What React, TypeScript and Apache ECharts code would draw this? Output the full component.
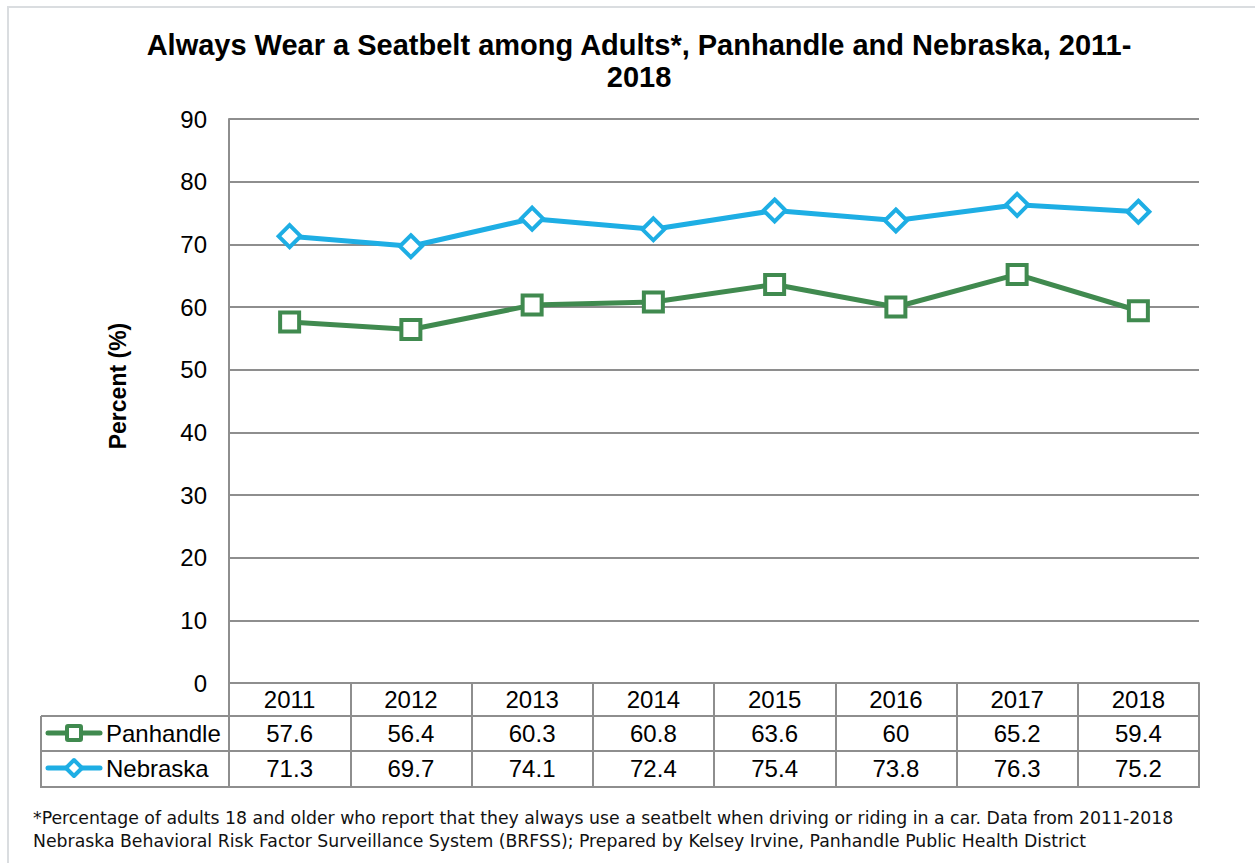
import React, { useEffect, useRef } from "react";
import * as echarts from "echarts";

const years = ["2011", "2012", "2013", "2014", "2015", "2016", "2017", "2018"];
const panhandle = [57.6, 56.4, 60.3, 60.8, 63.6, 60, 65.2, 59.4];
const nebraska = [71.3, 69.7, 74.1, 72.4, 75.4, 73.8, 76.3, 75.2];
const seriesNames = ["Panhandle", "Nebraska"];
const yTicks = { min: 0, max: 90, interval: 10 };

const titleText = "Always Wear a Seatbelt among Adults*, Panhandle and Nebraska, 2011-\n2018";
const yName = "Percent (%)";
const footLine1 =
  "*Percentage of adults 18 and older who report that they always use a seatbelt when driving or riding in a car. Data from 2011-2018";
const footLine2 =
  "Nebraska Behavioral Risk Factor Surveillance System (BRFSS); Prepared by Kelsey Irvine, Panhandle Public Health District";

const FONT = "'Liberation Sans', Arial, sans-serif";
const FOOT_FONT = "'DejaVu Sans', sans-serif";
const GREEN = "#408a4f";
const BLUE = "#1eaee4";
const GRID = "#8e8e8e";

export default function App() {
  const ref = useRef<HTMLDivElement>(null);
  useEffect(() => {
    if (!ref.current) return;
    const chart = echarts.init(ref.current, null, { renderer: "svg" });
    const valueAxis = (data: number[], offset: number) => ({
      type: "category",
      data: data.map((v) => String(v)),
      position: "bottom",
      offset,
      gridIndex: 0,
      axisLine: { show: false },
      axisTick: { show: false },
      axisLabel: { fontSize: 24, color: "#000", fontFamily: FONT, margin: 4, interval: 0 },
    });
    const legendItem = (name: string, color: string, symbol: any, cy: number) => [
      {
        type: "line",
        shape: { x1: 48, y1: cy, x2: 100, y2: cy },
        style: { stroke: color, lineWidth: 5, lineCap: "round" },
      },
      symbol,
      {
        type: "text",
        x: 106,
        y: cy,
        style: { text: name, font: `24px ${FONT}`, fill: "#000", verticalAlign: "middle" },
      },
    ];
    chart.setOption({
      animation: false,
      backgroundColor: "#fff",
      title: {
        text: titleText,
        left: 634,
        textAlign: "center",
        top: 24,
        textStyle: { fontSize: 29, fontWeight: "bold", color: "#000", fontFamily: FONT, lineHeight: 32 },
      },
      grid: { left: 229, right: 56, top: 119, bottom: 180 },
      xAxis: [
        {
          type: "category",
          data: years,
          position: "bottom",
          boundaryGap: true,
          axisLine: { show: true, lineStyle: { color: GRID, width: 2 } },
          axisTick: {
            show: true,
            interval: 0,
            alignWithLabel: false,
            length: 104,
            lineStyle: { color: GRID, width: 2 },
          },
          axisLabel: { fontSize: 24, color: "#000", fontFamily: FONT, margin: 4, interval: 0 },
        },
        valueAxis(panhandle, 34),
        valueAxis(nebraska, 69),
      ],
      yAxis: {
        type: "value",
        min: yTicks.min,
        max: yTicks.max,
        interval: yTicks.interval,
        axisLine: { show: true, lineStyle: { color: GRID, width: 2 } },
        axisTick: { show: false },
        splitLine: { show: true, lineStyle: { color: GRID, width: 2 } },
        axisLabel: { fontSize: 24, color: "#000", fontFamily: FONT, margin: 22 },
      },
      series: [
        {
          name: seriesNames[0],
          type: "line",
          data: panhandle,
          xAxisIndex: 0,
          symbol: "rect",
          symbolSize: 19,
          lineStyle: { color: GREEN, width: 5 },
          itemStyle: { color: "#fff", borderColor: GREEN, borderWidth: 4 },
          z: 3,
        },
        {
          name: seriesNames[1],
          type: "line",
          data: nebraska,
          xAxisIndex: 0,
          symbol: "diamond",
          symbolSize: 22,
          lineStyle: { color: BLUE, width: 5 },
          itemStyle: { color: "#fff", borderColor: BLUE, borderWidth: 4 },
          z: 3,
        },
      ],
      graphic: [
        {
          type: "rect",
          shape: { x: 8, y: 7, width: 1300, height: 900 },
          style: { fill: "none", stroke: "#dadde0", lineWidth: 2 },
          silent: true,
        },
        { type: "line", shape: { x1: 41, y1: 716, x2: 1200, y2: 716 }, style: { stroke: GRID, lineWidth: 2 } },
        { type: "line", shape: { x1: 41, y1: 751, x2: 1200, y2: 751 }, style: { stroke: GRID, lineWidth: 2 } },
        { type: "line", shape: { x1: 40, y1: 787, x2: 1200, y2: 787 }, style: { stroke: GRID, lineWidth: 2 } },
        { type: "line", shape: { x1: 41, y1: 716, x2: 41, y2: 787 }, style: { stroke: GRID, lineWidth: 2 } },
        ...legendItem(
          seriesNames[0],
          GREEN,
          {
            type: "rect",
            shape: { x: 67, y: 726, width: 14, height: 14, r: 1 },
            style: { fill: "#fff", stroke: GREEN, lineWidth: 4 },
          },
          733
        ),
        ...legendItem(
          seriesNames[1],
          BLUE,
          {
            type: "polygon",
            shape: { points: [[74, 760], [82, 768], [74, 776], [66, 768]] },
            style: { fill: "#fff", stroke: BLUE, lineWidth: 4, lineJoin: "round" },
          },
          768
        ),
        {
          type: "text",
          x: 118,
          y: 386,
          rotation: Math.PI / 2,
          style: {
            text: yName,
            font: `bold 23px ${FONT}`,
            fill: "#000",
            align: "center",
            verticalAlign: "middle",
          },
        },
        {
          type: "text",
          x: 33,
          y: 818,
          style: { text: footLine1, font: `17.3px ${FOOT_FONT}`, fill: "#111", verticalAlign: "middle" },
        },
        {
          type: "text",
          x: 33,
          y: 841,
          style: { text: footLine2, font: `17.3px ${FOOT_FONT}`, fill: "#111", verticalAlign: "middle" },
        },
      ],
    });
    return () => chart.dispose();
  }, []);
  return (
    <div
      ref={ref}
      style={{ position: "absolute", left: 0, top: 0, width: 1255, height: 863, background: "#fff" }}
    />
  );
}
